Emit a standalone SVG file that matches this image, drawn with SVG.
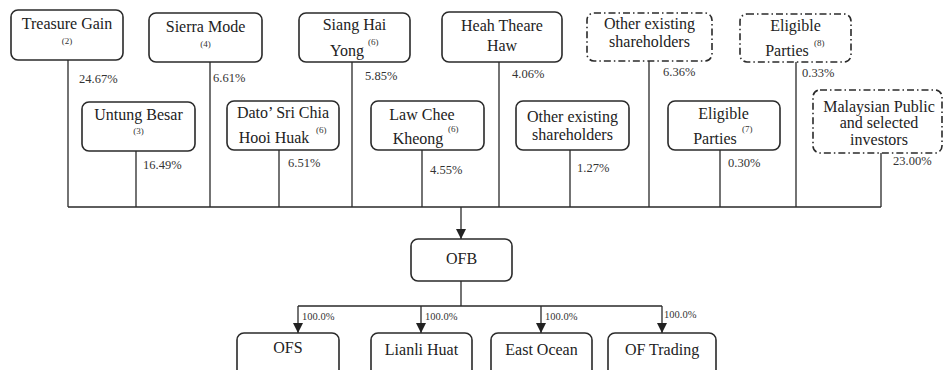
<svg xmlns="http://www.w3.org/2000/svg" width="943" height="370" viewBox="0 0 943 370">
<defs>
<marker id="arr" viewBox="0 0 10 10" refX="10" refY="5" markerWidth="10" markerHeight="10" markerUnits="userSpaceOnUse" orient="auto">
<path d="M0,0 L10,5 L0,10 z" fill="#222"/>
</marker>
<style>
.box{fill:#fff;stroke:#2a2a2a;stroke-width:1.6}
.dbox{fill:#fff;stroke:#2a2a2a;stroke-width:1.6;stroke-dasharray:7 3 1.5 3}
text{font-family:'Liberation Serif','DejaVu Serif',serif}
.t{font-size:16px;fill:#222;text-anchor:middle}
.s{font-size:9px;fill:#333}
.sm{text-anchor:middle}
.p{font-size:12.5px;fill:#333}
.q{font-size:10.5px;fill:#333}
.c{fill:none;stroke:#2a2a2a;stroke-width:1.3}
</style>
</defs>
<rect width="943" height="370" fill="#fff"/>
<g id="connectors">
<path class="c" d="M68,60V207M210,62V207M352,62V207M499,62V207M649,61V207M796,62V207M881,153V207M136,151V207M279,150V207M422,150V207M570,150V207M720,150V207M68,207H881"/>
<path class="c" d="M461,207V239" marker-end="url(#arr)"/>
<path class="c" d="M461,281V306M298,306H662"/>
<path class="c" d="M298,306V333" marker-end="url(#arr)"/>
<path class="c" d="M421,306V333" marker-end="url(#arr)"/>
<path class="c" d="M541,306V333" marker-end="url(#arr)"/>
<path class="c" d="M662,306V333" marker-end="url(#arr)"/>
<text class="p" x="79" y="83" font-family="Liberation Serif">24.67%</text>
<text class="p" x="213" y="82">6.61%</text>
<text class="p" x="365" y="80">5.85%</text>
<text class="p" x="512" y="78">4.06%</text>
<text class="p" x="663" y="76">6.36%</text>
<text class="p" x="802" y="77">0.33%</text>
<text class="p" x="893" y="165">23.00%</text>
<text class="p" x="143" y="169">16.49%</text>
<text class="p" x="288" y="167">6.51%</text>
<text class="p" x="430" y="174">4.55%</text>
<text class="p" x="577" y="172">1.27%</text>
<text class="p" x="728" y="167">0.30%</text>
<text class="q" x="302" y="320">100.0%</text>
<text class="q" x="425" y="320">100.0%</text>
<text class="q" x="545" y="320">100.0%</text>
<text class="q" x="664" y="318">100.0%</text>
</g>
<g id="treasure-gain">
<rect class="box" x="11" y="10" width="112" height="50" rx="7"/>
<text class="t" x="67" y="29">Treasure Gain</text>
<text class="s sm" x="67" y="44">(2)</text>
</g>
<g id="sierra-mode">
<rect class="box" x="149" y="13" width="113" height="49" rx="7"/>
<text class="t" x="205.5" y="32">Sierra Mode</text>
<text class="s sm" x="205.5" y="47">(4)</text>
</g>
<g id="siang-hai-yong">
<rect class="box" x="299" y="13" width="111" height="49" rx="7"/>
<text class="t" x="354.5" y="30">Siang Hai</text>
<text class="t" x="347" y="56">Yong</text>
<text class="s" x="368" y="45">(6)</text>
</g>
<g id="heah-theare-haw">
<rect class="box" x="442" y="12" width="120" height="50" rx="7"/>
<text class="t" x="502" y="31">Heah Theare</text>
<text class="t" x="502" y="51">Haw</text>
</g>
<g id="other-existing-1">
<rect class="dbox" x="587" y="13" width="125" height="48" rx="7"/>
<text class="t" x="649.5" y="29">Other existing</text>
<text class="t" x="649.5" y="47">shareholders</text>
</g>
<g id="eligible-parties-8">
<rect class="dbox" x="740" y="14" width="111" height="48" rx="7"/>
<text class="t" x="795.5" y="31">Eligible</text>
<text class="t" x="787" y="56">Parties</text>
<text class="s" x="814" y="46">(8)</text>
</g>
<g id="malaysian-public">
<rect class="dbox" x="813" y="90" width="129" height="63" rx="7"/>
<text class="t" x="879" y="112">Malaysian Public</text>
<text class="t" x="879" y="128">and selected</text>
<text class="t" x="879" y="145">investors</text>
</g>
<g id="untung-besar">
<rect class="box" x="82" y="102" width="113" height="49" rx="7"/>
<text class="t" x="138.5" y="120">Untung Besar</text>
<text class="s sm" x="138.5" y="134">(3)</text>
</g>
<g id="dato-sri-chia">
<rect class="box" x="227" y="101" width="112" height="49" rx="7"/>
<text class="t" x="283" y="118">Dato’ Sri Chia</text>
<text class="t" x="274" y="143">Hooi Huak</text>
<text class="s" x="316" y="133">(6)</text>
</g>
<g id="law-chee-kheong">
<rect class="box" x="371" y="101" width="113" height="49" rx="7"/>
<text class="t" x="422" y="120">Law Chee</text>
<text class="t" x="418" y="144">Kheong</text>
<text class="s" x="448" y="132">(6)</text>
</g>
<g id="other-existing-2">
<rect class="box" x="516" y="101" width="113" height="49" rx="7"/>
<text class="t" x="572.5" y="122">Other existing</text>
<text class="t" x="572.5" y="140">shareholders</text>
</g>
<g id="eligible-parties-7">
<rect class="box" x="668" y="101" width="112" height="49" rx="7"/>
<text class="t" x="723.5" y="119">Eligible</text>
<text class="t" x="715" y="144">Parties</text>
<text class="s" x="742" y="132">(7)</text>
</g>
<g id="ofb">
<rect class="box" x="411" y="239" width="101" height="42" rx="7"/>
<text class="t" x="461.5" y="264">OFB</text>
</g>
<g id="ofs">
<rect class="box" x="237" y="333" width="102" height="50" rx="7"/>
<text class="t" x="288" y="353">OFS</text>
</g>
<g id="lianli-huat">
<rect class="box" x="371" y="333" width="101" height="50" rx="7"/>
<text class="t" x="421.5" y="355">Lianli Huat</text>
</g>
<g id="east-ocean">
<rect class="box" x="491" y="333" width="101" height="50" rx="7"/>
<text class="t" x="541.5" y="355">East Ocean</text>
</g>
<g id="of-trading">
<rect class="box" x="608" y="333" width="108" height="50" rx="7"/>
<text class="t" x="662" y="355">OF Trading</text>
</g>
</svg>
